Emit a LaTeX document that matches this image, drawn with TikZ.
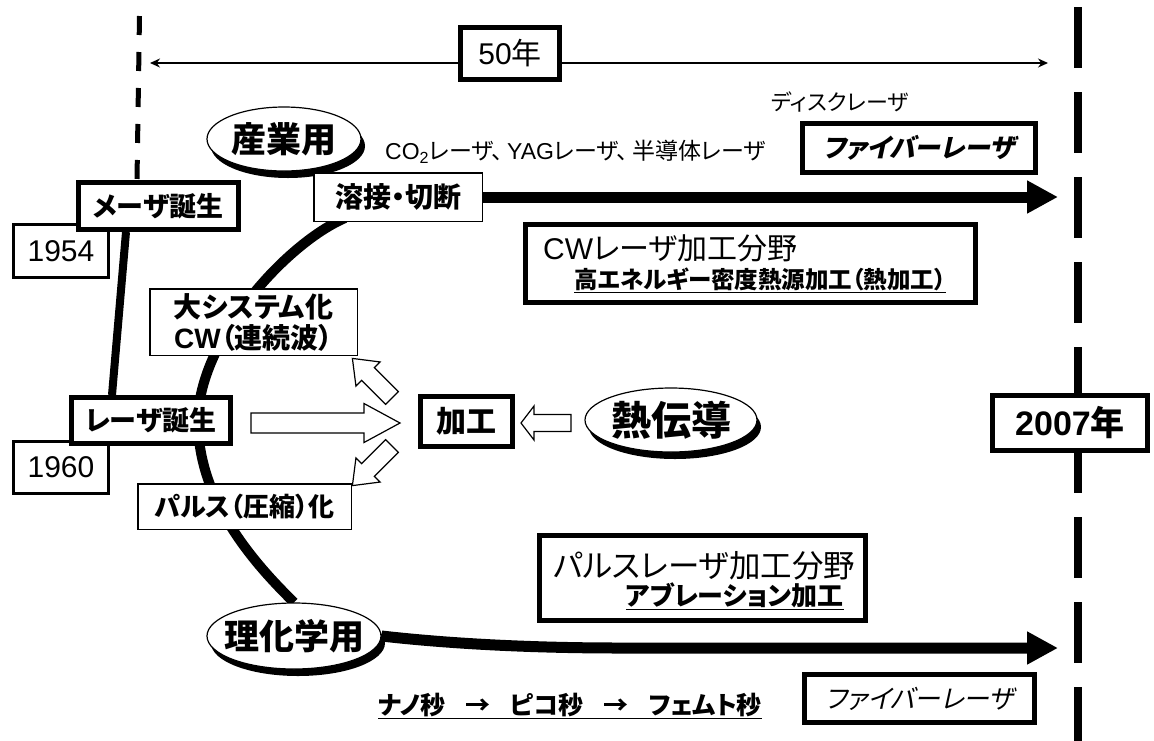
\documentclass[tikz,border=0pt]{standalone}
\usepackage{fontspec}
\setmainfont{Noto Sans CJK JP}[RawFeature={+palt}]
\newfontfamily\ar{Liberation Sans}
\newfontfamily\jpsl{Noto Sans CJK JP}[FakeSlant=0.22,RawFeature={+palt}]
\usetikzlibrary{arrows.meta,shapes.geometric,shadows,calc}
\pgfdeclarelayer{back}
\pgfdeclarelayer{bg}
\pgfsetlayers{back,bg,main}
\newcommand\fs[1]{\fontsize{#1}{#1}\selectfont}
\newcommand\openarrowshape[7]{%
  \draw[openarr, shift={(#1,#2)}, rotate=#3]
    (0,-#7) -- ({#4-#5},-#7) -- ({#4-#5},-#6) -- (#4,0) -- ({#4-#5},#6) -- ({#4-#5},#7) -- (0,#7) -- cycle;}
\tikzset{
  thickbox/.style={draw, line width=5pt, fill=white, inner sep=0pt},
  thinbox/.style={draw, line width=1.5pt, fill=white, inner sep=0pt},
  midbox/.style={draw, line width=3pt, fill=white, inner sep=0pt},
  oval/.style={ellipse, draw, line width=1.2pt, fill=white, inner sep=0pt,
     drop shadow={shadow xshift=4pt, shadow yshift=-7pt, opacity=1, fill=black}},
  curveline/.style={line width=10pt},
  bigarrow/.style={line width=11pt, -{Triangle[length=31pt,width=31pt]}},
  openarr/.style={draw, line width=1.2pt, fill=white, line join=miter},
  lbl/.style={inner sep=0pt},
  dimarrow/.style={line width=1.3pt, {Stealth[length=10pt,width=9pt]}-{Stealth[length=10pt,width=9pt]}},
}
\begin{document}
\begin{tikzpicture}[x=1pt,y=-1pt]
\useasboundingbox (0,0) rectangle (1154,740);
\begin{pgfonlayer}{back}
\fill[white] (0,0) rectangle (1154,740);
\end{pgfonlayer}

% nodes
\node[thickbox, minimum width=99pt, minimum height=52pt] (fifty) at (510,53.5) {\fs{30}{\ar 50}年};
\node[lbl] (disk) at (840,102) {\fs{22}ディスクレーザ};
\node[lbl, anchor=west] (co2) at (385,152) {\fs{23}{\ar CO\textsubscript{2}}レーザ、\,{\ar YAG}レーザ、\,半導体レーザ};
\node[thickbox, minimum width=233pt, minimum height=49pt] (fiber1) at (919,148) {\fs{26}\jpsl\bfseries ファイバーレーザ};
\node[oval, minimum width=154pt, minimum height=64pt] (sangyo) at (284,139) {\makebox[0pt]{\fs{35}\bfseries 産業用}};
\node[thinbox, minimum width=168.5pt, minimum height=48.5pt] (weld) at (398,197) {\fs{28}\bfseries 溶接・切断};
\node[thickbox, minimum width=450pt, minimum height=78pt] (cwbox) at (750.5,263.5) {};
\node[lbl, anchor=west] (cwt1) at (543,248) {\fs{30}{\ar CW}レーザ加工分野};
\node[lbl, anchor=west] (cwt2) at (574,280) {\fs{23.5}\bfseries\underline{高エネルギー密度熱源加工（熱加工）}};
\node[midbox, minimum width=95pt, minimum height=53pt] (y1954) at (61,251) {\fs{30}\ar 1954};
\node[thickbox, minimum width=160pt, minimum height=47pt] (maser) at (158.5,206) {\fs{27}\bfseries メーザ誕生};
\node[thinbox, minimum width=207.5pt, minimum height=66.5pt, align=center,
      font=\fontsize{28}{31}\selectfont\bfseries] (bigsys) at (253.5,322) {大システム化\\{\ar CW}（連続波）};
\node[midbox, minimum width=95pt, minimum height=52pt] (y1960) at (61,467.5) {\fs{30}\ar 1960};
\node[thickbox, minimum width=159pt, minimum height=46pt] (laser) at (151,420.5) {\fs{27}\bfseries レーザ誕生};
\node[thinbox, minimum width=213.5pt, minimum height=45.5pt] (pulse) at (244.5,506.5) {\fs{26}\bfseries パルス（圧縮）化};
\node[thickbox, minimum width=92pt, minimum height=50pt] (kako) at (466.5,421.5) {\fs{30}\bfseries 加工};
\node[oval, minimum width=172pt, minimum height=64pt] (netsu) at (671,420) {\makebox[0pt]{\fs{40}\bfseries 熱伝導}};
\node[thickbox, minimum width=155pt, minimum height=55pt] (y2007) at (1070,423) {\fs{34}\bfseries{\ar 2007}年};
\node[thickbox, minimum width=326pt, minimum height=85pt] (pbox) at (702.5,578) {};
\node[lbl, anchor=west] (pt1) at (553,566) {\fs{31.5}パルスレーザ加工分野};
\node[lbl, anchor=east] (pt2) at (844,596) {\fs{26}\bfseries\underline{アブレーション加工}};
\node[oval, minimum width=174pt, minimum height=66pt] (rika) at (294,636) {\makebox[0pt]{\fs{35}\bfseries 理化学用}};
\node[lbl, anchor=west] (nano) at (378,706) {\fs{25}\bfseries\underline{ナノ秒\hspace{0.8em}→\hspace{0.8em}ピコ秒\hspace{0.8em}→\hspace{0.8em}フェムト秒}};
\node[thickbox, minimum width=230pt, minimum height=48pt] (fiber2) at (919.5,698.5) {\fs{26}\jpsl ファイバーレーザ};

% coordinates for free ends
\coordinate (ltop) at (139.5,16);
\coordinate (rtop) at (1078,7);
\coordinate (rbot) at (1078,745);
\coordinate (arrL) at (150,63);
\coordinate (arrR) at (1048,63);
\coordinate (cstart) at (345,218);
\coordinate (cmid) at (198,421);
\coordinate (topEnd) at (1058,197);
\coordinate (botEnd) at (1058,648);

\begin{pgfonlayer}{bg}
\draw[line width=5pt, dash pattern=on 19pt off 17pt] (ltop) -- ($(maser.north west)+(61,0)$);
\draw[line width=8pt, dash pattern=on 61pt off 24pt] (rtop) -- (rbot);
\draw[dimarrow] (arrL) -- (arrR);
\draw[line width=8pt] ($(maser.south west)+(50,0)$) -- ($(laser.north west)+(43,0)$);
\draw[curveline] (cstart) .. controls (285,244) and (198,341) .. (cmid)
   .. controls (198,501) and (255,564) .. (rika.north);
\draw[bigarrow] (weld.east) -- (topEnd);
\draw[bigarrow] (rika.east) .. controls (470,646) and (560,648) .. (620,648) -- (botEnd);
\end{pgfonlayer}

% open arrows
\openarrowshape{251}{423}{0}{149}{36}{19.5}{10}
\openarrowshape{392}{398}{135}{56}{22}{17}{9}
\openarrowshape{392}{446}{225}{56}{22}{17}{9}
\openarrowshape{571}{423}{180}{50}{13}{17}{8.5}
\end{tikzpicture}
\end{document}
